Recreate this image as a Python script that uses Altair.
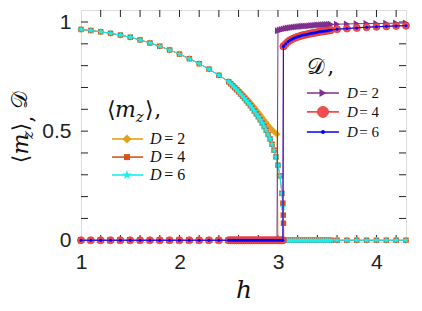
import altair as alt
import pandas as pd

# ---------------- data ----------------
h_lo = [1.0, 1.1, 1.2, 1.3, 1.4, 1.5, 1.6, 1.7, 1.8, 1.9, 2.0, 2.1, 2.2, 2.3, 2.4]
mz_lo = [0.966, 0.961, 0.955, 0.948, 0.940, 0.930, 0.918, 0.904, 0.889, 0.872,
         0.853, 0.832, 0.809, 0.784, 0.756]

h_mid = [2.50, 2.52, 2.54, 2.56, 2.58, 2.60, 2.62, 2.64, 2.66, 2.68, 2.70, 2.72, 2.74, 2.76,
         2.78, 2.80, 2.82, 2.84, 2.86, 2.88, 2.90, 2.92, 2.94, 2.96, 2.98, 3.00, 3.02, 3.04]
mz_mid_D46 = [0.726, 0.717, 0.708, 0.699, 0.690, 0.680, 0.670, 0.660, 0.650, 0.639, 0.628,
              0.617, 0.605, 0.592, 0.579, 0.566, 0.552, 0.537, 0.521, 0.504, 0.485, 0.464,
              0.440, 0.413, 0.382, 0.344, 0.295, 0.215]

h_mid_D2 = [2.50, 2.52, 2.54, 2.56, 2.58, 2.60, 2.62, 2.64, 2.66, 2.68, 2.70, 2.72, 2.74,
            2.76, 2.78, 2.80, 2.82, 2.84, 2.86, 2.88, 2.90, 2.92, 2.94, 2.96, 2.98, 2.99]
mz_mid_D2 = [0.728, 0.721, 0.713, 0.705, 0.697, 0.688, 0.679, 0.670, 0.661, 0.651, 0.641,
             0.631, 0.620, 0.609, 0.598, 0.587, 0.575, 0.563, 0.551, 0.539, 0.527, 0.516,
             0.506, 0.498, 0.490, 0.486]

h_tail_D4 = [3.05, 3.054, 3.056]
mz_tail_D4 = [0.17, 0.115, 0.078]
h_tail_D6 = [3.05]
mz_tail_D6 = [0.15]

h_hi_D2 = [3.00, 3.02, 3.04, 3.06, 3.08, 3.10, 3.12, 3.14, 3.16, 3.18, 3.20, 3.22, 3.24, 3.26,
           3.28, 3.30, 3.32, 3.34, 3.36, 3.38, 3.40, 3.42, 3.44, 3.46, 3.48, 3.50, 3.52, 3.54]
ord_hi_D2 = [0.960, 0.963, 0.966, 0.968, 0.970, 0.972, 0.973, 0.975, 0.976, 0.977, 0.978,
             0.979, 0.980, 0.981, 0.982, 0.982, 0.983, 0.984, 0.984, 0.985, 0.986, 0.986,
             0.987, 0.987, 0.988, 0.988, 0.989, 0.989]

h_hi_D46 = [3.055, 3.06, 3.08, 3.10, 3.12, 3.14, 3.16, 3.18, 3.20, 3.22, 3.24, 3.26, 3.28,
            3.30, 3.32, 3.34, 3.36, 3.38, 3.40, 3.42, 3.44, 3.46, 3.48, 3.50, 3.52, 3.54]
ord_hi_D46 = [0.888, 0.891, 0.900, 0.909, 0.916, 0.921, 0.925, 0.929, 0.932, 0.935, 0.938,
              0.940, 0.942, 0.944, 0.946, 0.948, 0.950, 0.951, 0.953, 0.955, 0.956, 0.958,
              0.959, 0.960, 0.962, 0.963]

h_sparse_hi = [3.6, 3.7, 3.8, 3.9, 4.0, 4.1, 4.2, 4.3]
ord_sparse_D2 = [0.990, 0.991, 0.992, 0.993, 0.993, 0.994, 0.995, 0.995]
ord_sparse_D46 = [0.967, 0.970, 0.973, 0.976, 0.978, 0.980, 0.982, 0.983]

x_minor_ticks = [1.2, 1.4, 1.6, 1.8, 2.0, 2.2, 2.4, 2.6, 2.8, 3.0, 3.2, 3.4, 3.6, 3.8, 4.0, 4.2]
y_minor_ticks = [0.1, 0.2, 0.3, 0.4, 0.5, 0.6, 0.7, 0.8, 0.9, 1.0]
x_labels = [1, 2, 3, 4]
y_labels = [0, 0.5, 1]

# ---------------- series tables ----------------
def zeros(lst):
    return [0.0] * len(lst)

series = {
    "mz2": (h_lo + h_mid_D2 + h_hi_D2 + h_sparse_hi,
            mz_lo + mz_mid_D2 + zeros(h_hi_D2) + zeros(h_sparse_hi)),
    "mz4": (h_lo + h_mid + h_tail_D4 + h_hi_D46[1:] + h_sparse_hi,
            mz_lo + mz_mid_D46 + mz_tail_D4 + zeros(h_hi_D46[1:]) + zeros(h_sparse_hi)),
    "mz6": (h_lo + h_mid + h_tail_D6 + h_hi_D46 + h_sparse_hi,
            mz_lo + mz_mid_D46 + mz_tail_D6 + zeros(h_hi_D46) + zeros(h_sparse_hi)),
    "od2": (h_lo + h_mid_D2 + h_hi_D2 + h_sparse_hi,
            zeros(h_lo) + zeros(h_mid_D2) + ord_hi_D2 + ord_sparse_D2),
    "od4": (h_lo + h_mid + [3.05] + h_hi_D46 + h_sparse_hi,
            zeros(h_lo) + zeros(h_mid) + [0.0] + ord_hi_D46 + ord_sparse_D46),
    "od6": (h_lo + h_mid + [3.05] + h_hi_D46 + h_sparse_hi,
            zeros(h_lo) + zeros(h_mid) + [0.0] + ord_hi_D46 + ord_sparse_D46),
}

STAR = ("M0,-1L0.235,-0.324L0.951,-0.309L0.380,0.124L0.588,0.809L0,0.4"
        "L-0.588,0.809L-0.380,0.124L-0.951,-0.309L-0.235,-0.324Z")

GOLD = "#DFA21F"
ORANGE = "#D9541A"
CYAN = "#14F0F0"
PURPLE = "#7E2F8E"
RED = "#F24D4D"
BLUE = "#0000FF"

styles = {
    "mz2": dict(color=GOLD, shape="diamond", size=45, lsize=85, stroke=None),
    "mz4": dict(color=ORANGE, shape="square", size=30, lsize=36, stroke=None),
    "mz6": dict(color=CYAN, shape=STAR, size=55, lsize=100, stroke=None),
    "od2": dict(color=PURPLE, shape="triangle-right", size=50, lsize=64, stroke=None),
    "od4": dict(color=RED, shape="circle", size=50, lsize=121, stroke="#E03A3A"),
    "od6": dict(color=BLUE, shape="circle", size=9, lsize=16, stroke=None),
}

XMIN, XMAX = 1.0, 4.3
YMIN, YMAX = -0.008, 1.055
xs = alt.Scale(domain=[XMIN, XMAX], nice=False, zero=False)
ys = alt.Scale(domain=[YMIN, YMAX], nice=False, zero=False)
xaxis = alt.Axis(values=x_labels, format="~g", title=None, grid=False, domain=False,
                 ticks=False, tickSize=0, labelPadding=9, labelFlush=False,
                 labelOverlap=False, labelFont="Liberation Sans", labelFontSize=21,
                 labelColor="#222222")
yaxis = alt.Axis(values=y_labels, format="~g", title=None, grid=False, domain=False,
                 ticks=False, tickSize=0, labelPadding=10, labelFlush=False,
                 labelOverlap=False, labelFont="Liberation Sans", labelFontSize=21,
                 labelColor="#222222")


def X(f="h"):
    return alt.X(f"{f}:Q", scale=xs, axis=xaxis)


def Y(f="v"):
    return alt.Y(f"{f}:Q", scale=ys, axis=yaxis)


layers = []

# tick marks (inward, mirrored on all four sides)
dx = 7 / 98.5
dy = 7 / 218.25
tick_rows = []
for t in x_minor_ticks:
    tick_rows.append(dict(x=t, x2=t, y=YMIN, y2=YMIN + dy))
    tick_rows.append(dict(x=t, x2=t, y=YMAX, y2=YMAX - dy))
for t in y_minor_ticks:
    tick_rows.append(dict(x=XMIN, x2=XMIN + dx, y=t, y2=t))
    tick_rows.append(dict(x=XMAX, x2=XMAX - dx, y=t, y2=t))
ticks_df = pd.DataFrame(tick_rows)
layers.append(
    alt.Chart(ticks_df).mark_rule(color="#222222", strokeWidth=1).encode(
        x=X("x"), x2="x2:Q", y=Y("y"), y2="y2:Q")
)

# data series
for key in ["mz2", "mz4", "mz6", "od2", "od4", "od6"]:
    hh, vv = series[key]
    df = pd.DataFrame({"h": hh, "v": vv})
    st = styles[key]
    layers.append(
        alt.Chart(df).mark_line(color=st["color"], strokeWidth=1.0).encode(
            x=X(), y=Y(), order="h:Q")
    )
    pkw = dict(shape=st["shape"], size=st["size"], filled=True, color=st["color"],
               opacity=1)
    if st["stroke"]:
        pkw.update(stroke=st["stroke"], strokeWidth=0.8)
    layers.append(alt.Chart(df).mark_point(**pkw).encode(x=X(), y=Y()))

# ---------------- legends (in data coordinates) ----------------
leg_mz_rows = [0.464, 0.381, 0.299]
leg_od_rows = [0.675, 0.588, 0.496]
leg_mz_x = (1.315, 1.629, 1.467, 1.701, 1.845)
leg_od_x = (3.294, 3.619, 3.457, 3.701, 3.825)
leg_labels = ["2", "4", "6"]


def dtext(h, y, s, size, font="DejaVu Serif", style="italic", align="left",
          baseline="middle"):
    d = pd.DataFrame({"h": [h], "v": [y]})
    return alt.Chart(d).mark_text(text=s, font=font, fontSize=size, fontStyle=style,
                                  align=align, baseline=baseline,
                                  color="#111111").encode(x=X(), y=Y())


def legend_block(keys, rows, xs_, fsize):
    out = []
    x1, x2, xm, xt, xe = xs_
    for k, r, lab in zip(keys, rows, leg_labels):
        st = styles[k]
        d = pd.DataFrame({"h": [x1], "h2": [x2], "v": [r]})
        out.append(alt.Chart(d).mark_rule(color=st["color"], strokeWidth=1.6).encode(
            x=X(), x2="h2:Q", y=Y()))
        dm = pd.DataFrame({"h": [xm], "v": [r]})
        pkw = dict(shape=st["shape"], size=st["lsize"], filled=True, color=st["color"],
                   opacity=1)
        if st["stroke"]:
            pkw.update(stroke=st["stroke"], strokeWidth=0.8)
        out.append(alt.Chart(dm).mark_point(**pkw).encode(x=X(), y=Y()))
        out.append(dtext(xt, r, "D", fsize, font="Liberation Serif"))
        out.append(dtext(xe, r, "= " + lab, fsize, font="Liberation Serif",
                         style="normal"))
    return out


layers += legend_block(["mz2", "mz4", "mz6"], leg_mz_rows, leg_mz_x, 16)
layers += legend_block(["od2", "od4", "od6"], leg_od_rows, leg_od_x, 15)

# legend titles
layers.append(dtext(1.264, 0.565, "\u27e8", 22, style="normal", baseline="alphabetic"))
layers.append(dtext(1.345, 0.565, "m", 22, baseline="alphabetic"))
layers.append(dtext(1.555, 0.542, "z", 15, baseline="alphabetic"))
layers.append(dtext(1.650, 0.565, "\u27e9", 22, style="normal", baseline="alphabetic"))
layers.append(dtext(1.745, 0.565, ",", 22, style="normal", baseline="alphabetic"))
layers.append(dtext(3.294, 0.762, "\U0001D49F", 22, style="normal", baseline="alphabetic"))
layers.append(dtext(3.50, 0.762, ",", 22, style="normal", baseline="alphabetic"))


# ---------------- axis titles (pixel placed) ----------------
def ptext(x, y, s, size, style="italic", angle=0, font="DejaVu Serif",
          baseline="middle"):
    d = pd.DataFrame({"t": [s]})
    kw = dict(text=s, font=font, fontSize=size, fontStyle=style, align="center",
              baseline=baseline, color="#111111")
    if angle:
        kw["angle"] = angle
    return alt.Chart(d).mark_text(**kw).encode(x=alt.value(x), y=alt.value(y))


layers.append(ptext(163, 288, "h", 25, baseline="alphabetic"))
layers.append(ptext(-60, 149, "\u27e8", 22, style="normal", angle=270))
layers.append(ptext(-60, 134, "m", 22, angle=270))
layers.append(ptext(-53, 125, "z", 15, angle=270))
layers.append(ptext(-60, 117, "\u27e9", 22, style="normal", angle=270))
layers.append(ptext(-55, 109, ",", 22, style="normal", angle=270))
layers.append(ptext(-61, 90, "\U0001D49F", 22, style="normal", angle=270))

chart = alt.layer(*layers).properties(
    width=325, height=232,
    autosize=alt.AutoSizeParams(type="none"),
    padding={"left": 73, "top": 2, "right": 8, "bottom": 68},
).configure_view(stroke="#111111", strokeWidth=1.2).configure(background="white")

chart.save("out.html", embed_options={"renderer": "svg", "actions": False})
